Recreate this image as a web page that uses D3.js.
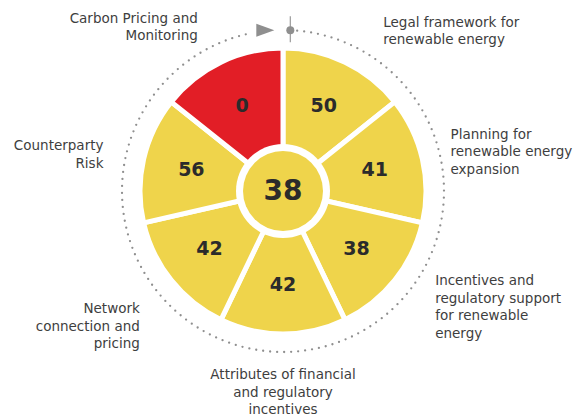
<!DOCTYPE html>
<html>
<head>
<meta charset="utf-8">
<script src="https://cdn.jsdelivr.net/npm/d3@7"></script>
<style>
  body { margin: 0; background: #fff; }
  svg { display: block; }
</style>
</head>
<body>
<div id="chart"></div>
<script>
// Data
var categories = [
  ["Legal framework for", "renewable energy"],
  ["Planning for", "renewable energy", "expansion"],
  ["Incentives and", "regulatory support", "for renewable", "energy"],
  ["Attributes of financial", "and regulatory", "incentives"],
  ["Network", "connection and", "pricing"],
  ["Counterparty", "Risk"],
  ["Carbon Pricing and", "Monitoring"]
];
var scores = [50, 41, 38, 42, 42, 56, 0];
var overallScore = 38;

// layout
var width = 574, height = 417;
var cx = 283, cy = 191;
var outerR = 143, ringR = 47, innerR = 40, ringDots = 161;
var labelR = 178;
// small hand nudges so labels sit like in the original
var labelNudge = [[23, 0], [-6, 0], [13, 5], [0, -3], [-4, 24], [-6, 3], [-8, -4]];

var yellow = "#EFD44B", red = "#E21E26";
var color = d3.scaleThreshold().domain([20]).range([red, yellow]);

var svg = d3.select("#chart")
  .append("svg")
  .attr("width", width)
  .attr("height", height);

var g = svg.append("g")
  .attr("transform", "translate(" + cx + "," + cy + ")");

// dotted ring (gap at the top for the start marker)
var startA = 2.6 * Math.PI / 180, endA = 348 * Math.PI / 180;
var ringPath = d3.path();
ringPath.arc(0, 0, ringDots, startA - Math.PI / 2, endA - Math.PI / 2);
g.append("path")
  .attr("d", ringPath.toString())
  .attr("fill", "none")
  .attr("stroke", "#8f8f8f")
  .attr("stroke-width", 2.3)
  .attr("stroke-linecap", "round")
  .attr("stroke-dasharray", "0 7");

// start marker + arrow
var mx = ringDots * Math.sin(startA), my = -ringDots * Math.cos(startA);
g.append("line")
  .attr("x1", mx).attr("x2", mx)
  .attr("y1", my - 14).attr("y2", my + 12)
  .attr("stroke", "#9a9a9a")
  .attr("stroke-width", 1.2);
g.append("circle")
  .attr("cx", mx).attr("cy", my)
  .attr("r", 4)
  .attr("fill", "#8f8f8f");
g.append("path")
  .attr("d", d3.line()([[mx - 34, my - 6.5], [mx - 16, my], [mx - 34, my + 6.5]]) + "Z")
  .attr("fill", "#8f8f8f");

// wedges
var pie = d3.pie().value(1).sort(null);
var arcs = pie(scores);
var arc = d3.arc().innerRadius(0).outerRadius(outerR);

g.selectAll(".wedge")
  .data(arcs)
  .enter().append("path")
  .attr("class", "wedge")
  .attr("d", arc)
  .attr("fill", d => color(d.data))
  .attr("stroke", "#fff")
  .attr("stroke-width", 5)
  .attr("stroke-linejoin", "miter");

// centre
g.append("circle").attr("r", ringR).attr("fill", "#fff");
g.append("circle").attr("r", innerR).attr("fill", yellow);
g.append("text")
  .attr("y", -1)
  .attr("dy", "0.36em")
  .attr("text-anchor", "middle")
  .attr("font-family", "DejaVu Sans")
  .attr("font-weight", "bold")
  .attr("font-size", 28)
  .attr("fill", "#2b2b2b")
  .text(overallScore);

// wedge values
var valueArc = d3.arc().innerRadius(94).outerRadius(94);
g.selectAll(".value")
  .data(arcs)
  .enter().append("text")
  .attr("class", "value")
  .attr("transform", d => "translate(" + valueArc.centroid(d) + ")")
  .attr("dy", "0.3em")
  .attr("text-anchor", "middle")
  .attr("font-family", "DejaVu Sans")
  .attr("font-weight", "bold")
  .attr("font-size", 19)
  .attr("fill", "#2b2b2b")
  .text(d => d.data);

// category labels
var lineH = 17.5;
var labels = g.selectAll(".label")
  .data(arcs)
  .enter().append("text")
  .attr("class", "label")
  .attr("font-family", "DejaVu Sans")
  .attr("font-size", 13.5)
  .attr("fill", "#3e3e3e")
  .each(function(d, i) {
    var a = (d.startAngle + d.endAngle) / 2;
    var s = Math.sin(a), c = -Math.cos(a);
    var x = labelR * s + labelNudge[i][0];
    var y = labelR * c + labelNudge[i][1];
    var lines = categories[i];
    var anchor = s > 0.2 ? "start" : (s < -0.2 ? "end" : "middle");
    var y0;
    if (anchor === "middle") y0 = y + lineH / 2;          // block hangs below
    else y0 = y - (lines.length - 1) * lineH / 2;          // block centred
    d3.select(this)
      .attr("text-anchor", anchor)
      .selectAll("tspan")
      .data(lines)
      .enter().append("tspan")
      .attr("x", x)
      .attr("y", (l, j) => y0 + j * lineH)
      .attr("dy", "0.35em")
      .text(l => l);
  });
</script>
</body>
</html>
